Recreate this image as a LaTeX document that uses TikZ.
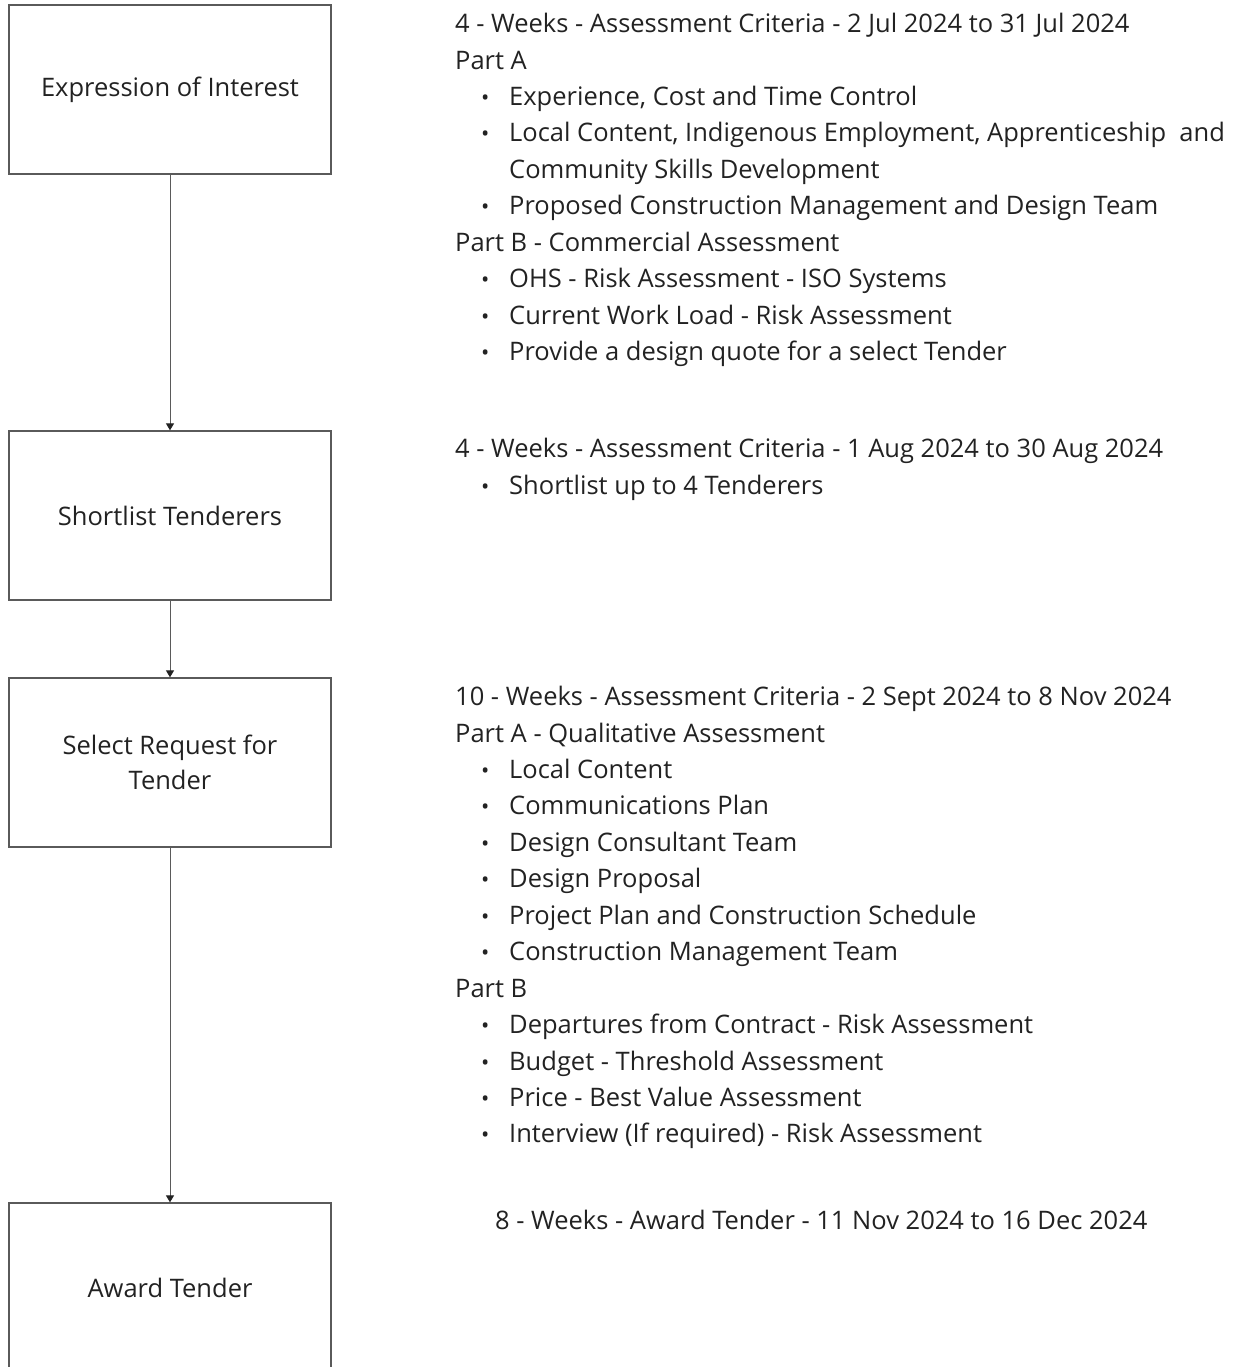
\documentclass[tikz,border=0pt]{standalone}
\usepackage{fontspec}
\setmainfont{Open Sans}
\usetikzlibrary{arrows.meta}
\definecolor{boxline}{HTML}{5A5A5A}
\definecolor{ink}{HTML}{222222}
\newcommand{\itm}{\hspace*{26pt}\makebox[28pt][l]{{\fontsize{22}{22}\selectfont•}}}
\newcommand{\hang}{\hspace*{54pt}}

\begin{document}
\begin{tikzpicture}[x=1pt,y=-1pt,
    stage/.style={draw=boxline,line width=1.3pt,minimum width=322pt,minimum height=169pt,inner sep=0pt,align=center,text=ink,font=\fontsize{25.5}{35}\selectfont},
    notes/.style={anchor=north west,inner sep=0pt,align=left,text=ink,font=\fontsize{25.5}{36.45}\selectfont},
    flow/.style={draw=boxline,line width=1pt,-{Triangle[length=7pt,width=8pt,color=ink]}}]
    \useasboundingbox (0,0) rectangle (1236,1367); % page

    \node [stage] (eoi) at (170,89.5) {Expression of Interest};
    \node [stage] (shortlist) at (170,515.5) {Shortlist Tenderers};
    \node [stage] (rft) at (170,762.5) {Select Request for\\Tender};
    \node [stage] (award) at (170,1287.5) {Award Tender};

    \draw [flow] (eoi) -- (shortlist);
    \draw [flow] (shortlist) -- (rft);
    \draw [flow] (rft) -- (award);

    \node [notes] (eoinotes) at (455,13) {4 - Weeks - Assessment Criteria - 2 Jul 2024 to 31 Jul 2024\\
        Part A\\
        \itm Experience, Cost and Time Control\\
        \itm Local Content, Indigenous Employment, Apprenticeship\ \ and\\
        \hang Community Skills Development\\
        \itm Proposed Construction Management and Design Team\\
        Part B - Commercial Assessment\\
        \itm OHS - Risk Assessment - ISO Systems\\
        \itm Current Work Load - Risk Assessment\\
        \itm Provide a design quote for a select Tender};
    \node [notes] (shortnotes) at (455,438) {4 - Weeks - Assessment Criteria - 1 Aug 2024 to 30 Aug 2024\\
        \itm Shortlist up to 4 Tenderers};
    \node [notes] (rftnotes) at (455,686) {10 - Weeks - Assessment Criteria - 2 Sept 2024 to 8 Nov 2024\\
        Part A - Qualitative Assessment\\
        \itm Local Content\\
        \itm Communications Plan\\
        \itm Design Consultant Team\\
        \itm Design Proposal\\
        \itm Project Plan and Construction Schedule\\
        \itm Construction Management Team\\
        Part B\\
        \itm Departures from Contract - Risk Assessment\\
        \itm Budget - Threshold Assessment\\
        \itm Price - Best Value Assessment\\
        \itm Interview (If required) - Risk Assessment};
    \node [notes] (awardnotes) at (495,1210) {8 - Weeks - Award Tender - 11 Nov 2024 to 16 Dec 2024};
\end{tikzpicture}
\end{document}
